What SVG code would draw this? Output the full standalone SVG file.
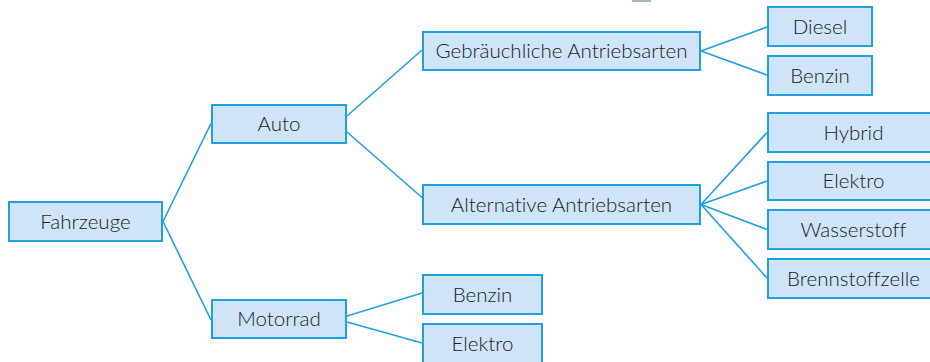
<svg xmlns="http://www.w3.org/2000/svg" width="930" height="362" viewBox="0 0 930 362">
<style>
.box rect{fill:#cfe4f7;stroke:#1fa0e2;stroke-width:2}
.box text{font-family:Lato,"Noto Sans","DejaVu Sans",sans-serif;font-size:20.5px;font-weight:300;fill:#1c1c1c;text-anchor:middle;font-variant-ligatures:none;font-feature-settings:"liga" 0,"dlig" 0}
.links line{stroke:#1fa0e2;stroke-width:1.6;fill:none}
</style>
<rect x="632" y="0" width="19" height="2" fill="#a9b4bf"/>
<g class="links">
<line x1="163" y1="221.5" x2="211" y2="123.5"/>
<line x1="163" y1="221.5" x2="211" y2="320"/>
<line x1="347" y1="116" x2="422" y2="50"/>
<line x1="347" y1="132" x2="422" y2="197.5"/>
<line x1="347" y1="316" x2="422" y2="293"/>
<line x1="347" y1="322" x2="422" y2="343"/>
<line x1="701" y1="51" x2="767" y2="27"/>
<line x1="701" y1="51" x2="767" y2="75"/>
<line x1="701" y1="204.5" x2="767" y2="132.5"/>
<line x1="701" y1="204.5" x2="767" y2="181"/>
<line x1="701" y1="204.5" x2="767" y2="229.5"/>
<line x1="701" y1="204.5" x2="767" y2="278"/>
</g>
<g id="fahrzeuge" class="box"><rect x="9" y="202" width="153" height="39"/><text x="85.5" y="228.5">Fahrzeuge</text></g>
<g id="auto" class="box"><rect x="212" y="105" width="134" height="38"/><text x="279" y="131">Auto</text></g>
<g id="motorrad" class="box"><rect x="212" y="300" width="134" height="38"/><text x="279" y="326">Motorrad</text></g>
<g id="gebraeuchlich" class="box"><rect x="423" y="32" width="277" height="38"/><text x="561.5" y="58">Gebräuchliche Antriebsarten</text></g>
<g id="alternativ" class="box"><rect x="423" y="185" width="277" height="39"/><text x="561.5" y="211.5">Alternative Antriebsarten</text></g>
<g id="diesel" class="box"><rect x="768" y="7" width="104" height="39"/><text x="820" y="33.5">Diesel</text></g>
<g id="benzin-auto" class="box"><rect x="768" y="56" width="104" height="39"/><text x="820" y="82.5">Benzin</text></g>
<g id="hybrid" class="box"><rect x="768" y="113" width="171" height="39"/><text x="853.5" y="139.5">Hybrid</text></g>
<g id="elektro-auto" class="box"><rect x="768" y="162" width="171" height="38"/><text x="853.5" y="188">Elektro</text></g>
<g id="wasserstoff" class="box"><rect x="768" y="210" width="171" height="39"/><text x="853.5" y="236.5">Wasserstoff</text></g>
<g id="brennstoffzelle" class="box"><rect x="768" y="259" width="171" height="39"/><text x="853.5" y="285.5">Brennstoffzelle</text></g>
<g id="benzin-motorrad" class="box"><rect x="423" y="275" width="119" height="39"/><text x="482.5" y="301.5">Benzin</text></g>
<g id="elektro-motorrad" class="box"><rect x="423" y="324" width="119" height="39"/><text x="482.5" y="350.5">Elektro</text></g>
</svg>
